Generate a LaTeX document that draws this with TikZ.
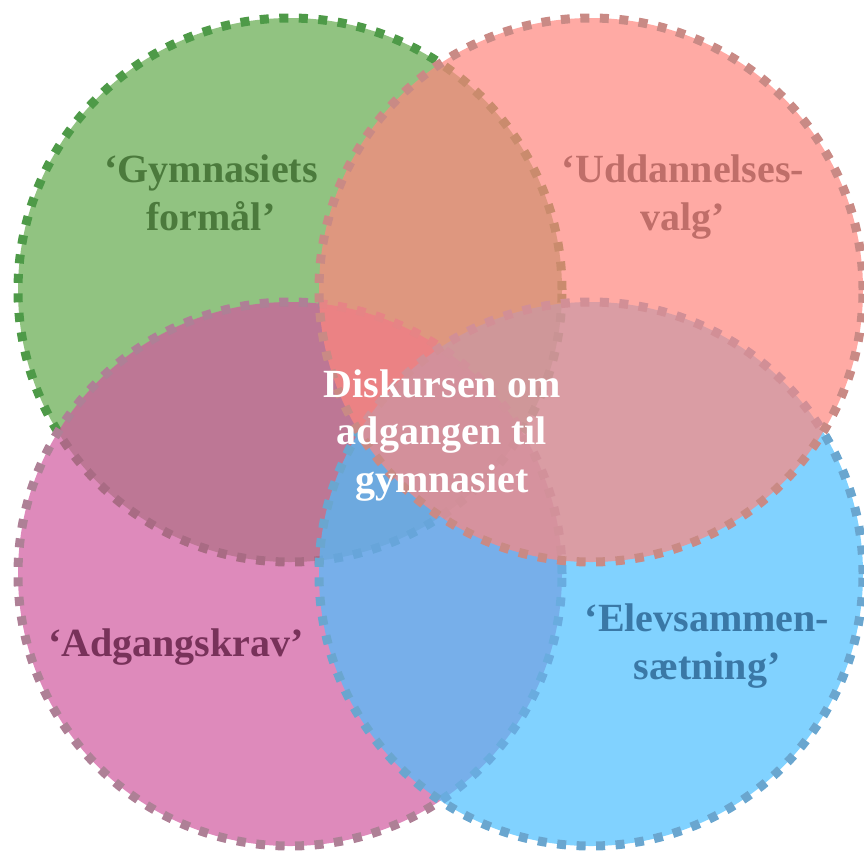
\documentclass[tikz,border=0pt]{standalone}
\usepackage{fontspec}
\setmainfont{Liberation Serif}
\usetikzlibrary{positioning}
\definecolor{grnfill}{HTML}{62A94C}
\definecolor{grnline}{HTML}{4E9A48}
\definecolor{grntext}{HTML}{4B7A3C}
\definecolor{magfill}{HTML}{D0589E}
\definecolor{magline}{HTML}{AE8096}
\definecolor{magtext}{HTML}{78325A}
\definecolor{blufill}{HTML}{4CBFFF}
\definecolor{bluline}{HTML}{6AA6CF}
\definecolor{blutext}{HTML}{3A78A6}
\definecolor{salfill}{HTML}{FF867E}
\definecolor{salline}{HTML}{C98A85}
\definecolor{saltext}{HTML}{BF6E69}

\begin{document}
\begin{tikzpicture}[x=1pt,y=-1pt,
      set/.style={circle,minimum size=544pt,inner sep=0pt,fill opacity=0.7,
        line width=9pt,dash pattern=on 9pt off 10.5pt},
      lbl/.style={font=\bfseries\fontsize{40}{47.5}\selectfont,align=center,anchor=base}]
    \useasboundingbox (0,0) rectangle (864,852);
    \foreach \n/\x/\y/\c in {gym/290/290/grn,adg/290/574/mag,elev/591/574/blu,udd/591/290/sal}
      \node[set,fill=\c fill,draw=\c line] (\n) at (\x,\y) {};
    % anchor=base sits on the last line
    \node[lbl,text=grntext] (gymtxt) at (211,230) {‘Gymnasiets\\formål’};
    \node[lbl,text=saltext] (uddtxt) at (683,230) {‘Uddannelses-\\valg’};
    \node[lbl,text=magtext] (adgtxt) at (176,656) {‘Adgangskrav’};
    \node[lbl,text=blutext] (elevtxt) at (707,679) {‘Elevsammen-\\sætning’};
    \node[lbl,text=white] (midtxt) at (442,492) {Diskursen om\\adgangen til\\gymnasiet};
  \end{tikzpicture}
\end{document}
